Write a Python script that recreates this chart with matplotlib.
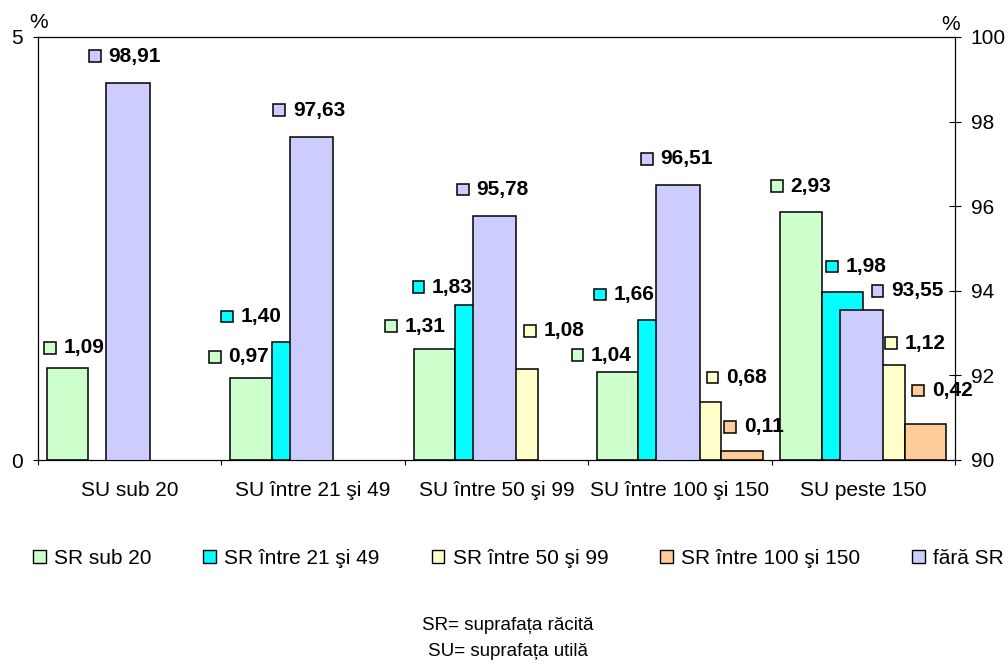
import numpy as np
import matplotlib
matplotlib.use("Agg")
import matplotlib.pyplot as plt
from matplotlib.patches import Patch, Rectangle
from matplotlib.offsetbox import AnnotationBbox, DrawingArea, HPacker, TextArea

plt.rcParams["font.family"] = ["Liberation Sans", "DejaVu Sans"]

# ---- data ----
categories = ["SU sub 20", "SU între 21 şi 49", "SU între 50 şi 99",
              "SU între 100 şi 150", "SU peste 150"]
sr_sub_20 = [1.09, 0.97, 1.31, 1.04, 2.93]
sr_21_49 = [np.nan, 1.40, 1.83, 1.66, 1.98]
sr_50_99 = [np.nan, np.nan, 1.08, 0.68, 1.12]
sr_100_150 = [np.nan, np.nan, np.nan, 0.11, 0.42]
fara_sr = [98.91, 97.63, 95.78, 96.51, 93.55]   # right axis

series_names = ["SR sub 20", "SR între 21 şi 49", "SR între 50 şi 99",
                "SR între 100 şi 150", "fără SR"]
colors = ["#CCFFCC", "#00FFFF", "#FFFFCC", "#FFCC99", "#CCCCFF"]

# label nudges in pixels (dx, dy) from the top centre of each bar
label_nudge = {
    (0, 0): (7, 20), (0, 1): (-12, 21), (0, 2): (-19, 23), (0, 3): (-16, 17), (0, 4): (0, 26),
    (1, 1): (-41, 25), (1, 2): (-33, 18), (1, 3): (-35, 25), (1, 4): (14, 26),
    (2, 2): (37, 38), (2, 3): (36, 25), (2, 4): (31, 22),
    (3, 3): (12, 24), (3, 4): (17, 34),
    (4, 0): (-3, 27), (4, 1): (-2, 27), (4, 2): (-2, 26), (4, 3): (-1, 26), (4, 4): (46, 19),
}

FS = 15


def fmt(v):
    return f"{v:.2f}".replace(".", ",")


def value_label(host, transform, x, y, value, color, nudge):
    key = DrawingArea(8.5, 8.5, 0, 0)
    key.add_artist(Rectangle((0, 0), 8.5, 8.5, facecolor=color, edgecolor="black", lw=1.1))
    txt = TextArea(fmt(value), textprops=dict(fontsize=FS, fontweight="bold"))
    box = HPacker(children=[key, txt], align="center", pad=0, sep=5.5)
    dx, dy = nudge
    ab = AnnotationBbox(box, (x, y), xycoords=transform,
                        xybox=(dx * 0.72, dy * 0.72), boxcoords="offset points",
                        frameon=False, box_alignment=(0.5, 0.5), pad=0)
    host.add_artist(ab)


fig = plt.figure(figsize=(10.08, 6.66), dpi=100)
ax = fig.add_axes([38 / 1008, 1 - 460 / 666, 917 / 1008, 423 / 666])
ax2 = ax.twinx()

x = np.arange(len(categories))
w = 0.226
primary = [sr_sub_20, sr_21_49, sr_50_99, sr_100_150]
for j, vals in enumerate(primary):
    ax.bar(x + (j - 1.5) * w, vals, width=w, color=colors[j],
           edgecolor="black", linewidth=1.1)
ax2.bar(x - 0.01, fara_sr, width=0.237, color=colors[4], edgecolor="black", linewidth=1.1)

# value labels, all on the top axes so they sit above every bar
for j, vals in enumerate(primary):
    for i, v in enumerate(vals):
        if np.isnan(v):
            continue
        value_label(ax2, ax.transData, x[i] + (j - 1.5) * w, v, v, colors[j], label_nudge[(j, i)])
for i, v in enumerate(fara_sr):
    value_label(ax2, ax2.transData, x[i] - 0.01, v, v, colors[4], label_nudge[(4, i)])

# axes
ax.set_xlim(-0.5, len(categories) - 0.5)
ax.set_ylim(0, 5)
ax2.set_ylim(90, 100)
ax.set_yticks([0, 5])
ax2.set_yticks(np.arange(90, 101, 2))
ax.set_xticks(np.arange(-0.5, len(categories), 1))
ax.set_xticklabels([])
ax.set_xticks(x, minor=True)
ax.set_xticklabels(categories, minor=True, fontsize=FS)
ax.tick_params(axis="x", which="major", direction="out", length=3.6, width=0.8)
ax.tick_params(axis="x", which="minor", length=0, pad=15)
ax.tick_params(axis="y", direction="out", length=3.6, width=0.8, pad=7, labelsize=FS)
ax2.tick_params(axis="y", direction="inout", length=8.6, width=0.8, pad=7, labelsize=FS)
for a in (ax, ax2):
    for s in a.spines.values():
        s.set_linewidth(0.8)
        s.set_color("black")

fig.text(39 / 1008, 1 - 22 / 666, "%", ha="center", va="center", fontsize=FS)
fig.text(951 / 1008, 1 - 24 / 666, "%", ha="center", va="center", fontsize=FS)

handles = [Patch(facecolor=c, edgecolor="black", lw=1.0) for c in colors]
fig.legend(handles, series_names, loc="center left",
           bbox_to_anchor=(33 / 1008, 1 - 558 / 666), ncol=5, frameon=False,
           fontsize=FS, handlelength=0.6, handleheight=0.6, handletextpad=0.4,
           columnspacing=2.5, borderpad=0, borderaxespad=0)

fig.text(508 / 1008, 1 - 626 / 666, "SR= suprafața răcită", ha="center", va="center", fontsize=13.5)
fig.text(508 / 1008, 1 - 652 / 666, "SU= suprafața utilă", ha="center", va="center", fontsize=13.5)

fig.savefig("out.png", dpi=100)
